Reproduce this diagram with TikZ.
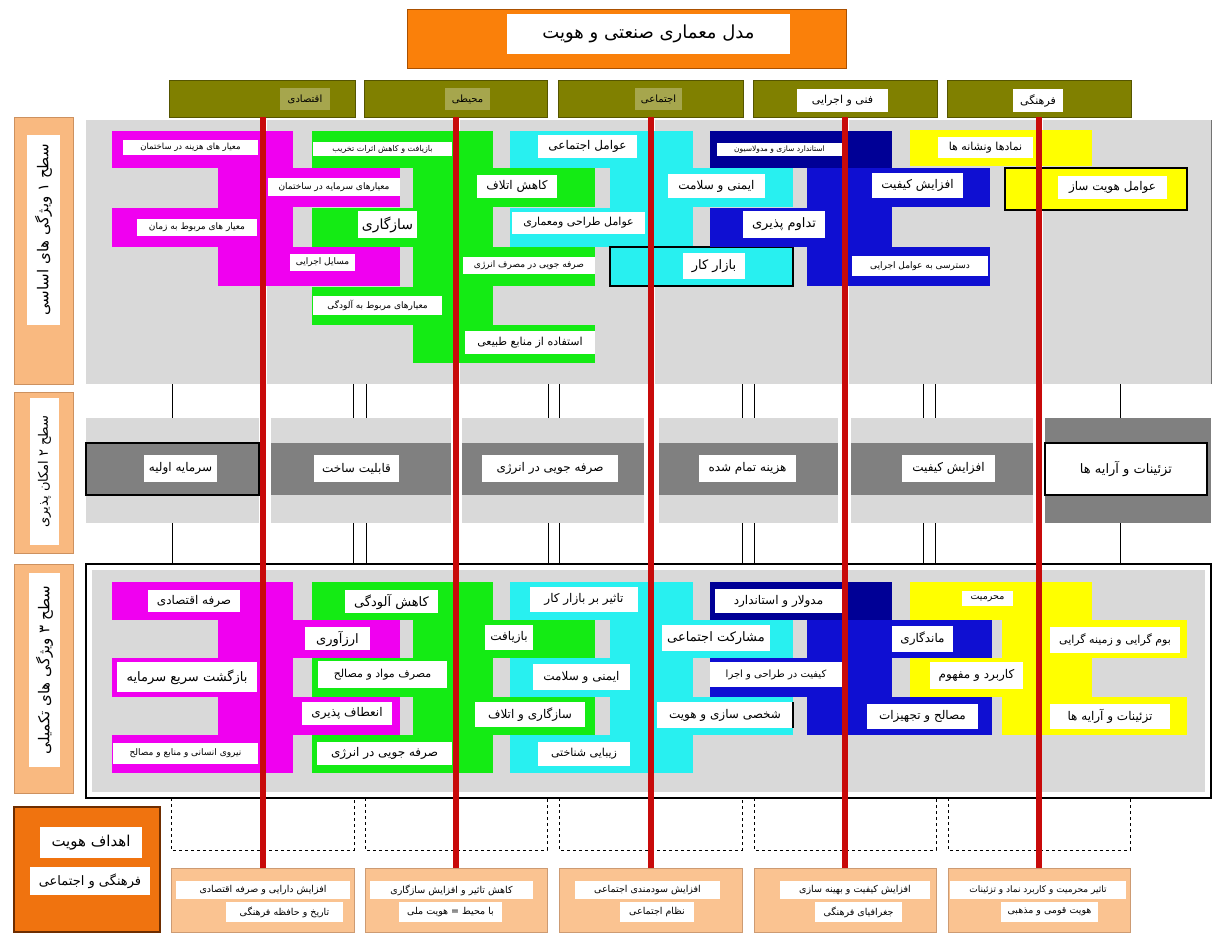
\documentclass[tikz,border=0pt]{standalone}
\usepackage{fontspec}
\usepackage{graphicx}
\newfontfamily\arabicfont[Script=Arabic]{DejaVu Sans}
\TeXXeTstate=1
\definecolor{mag}{RGB}{240,0,240}
\definecolor{grn}{RGB}{20,235,20}
\definecolor{cyn}{RGB}{40,240,240}
\definecolor{blu}{RGB}{15,15,210}
\definecolor{blud}{RGB}{0,0,150}
\definecolor{yel}{RGB}{255,255,0}
\definecolor{pnl}{RGB}{217,217,217}
\definecolor{dgr}{RGB}{128,128,128}
\definecolor{olv}{RGB}{128,128,0}
\definecolor{olvd}{RGB}{85,85,0}
\definecolor{ttl}{RGB}{250,128,10}
\definecolor{ttld}{RGB}{170,80,0}
\definecolor{lor}{RGB}{249,185,128}
\definecolor{lord}{RGB}{205,145,95}
\definecolor{gor}{RGB}{250,195,145}
\definecolor{gord}{RGB}{205,155,115}
\definecolor{dor}{RGB}{240,115,15}
\definecolor{dord}{RGB}{110,45,0}
\definecolor{rln}{RGB}{200,10,10}
\newsavebox\fabox
\newlength\fadim
\newcommand\fitfa[3]{\setlength\fadim{\dimexpr #1\relax}\sbox\fabox{\arabicfont\fontsize{#2}{#2}\selectfont #3}\ifdim\wd\fabox>\fadim\resizebox{\fadim}{!}{\usebox\fabox}\else\usebox\fabox\fi}
\newcommand\tb[8][]{\node[tbox,#1,minimum width={#4pt-#3pt},minimum height={#6pt-#5pt}] (#2) at ({(#3+#4)/2},{(#5+#6)/2}) {\fitfa{#4pt-#3pt-3pt}{#7}{#8}};}
\newcommand\rr[5]{\fill[#1] (#2,#4) rectangle (#3,#5);}
\begin{document}
\begin{tikzpicture}[x=1pt,y=-1pt,
 tbox/.style={fill=white,inner sep=0pt,outer sep=0pt,text=black},
 hdr/.style={fill=olv,draw=olvd,line width=1pt,inner sep=0pt,outer sep=0pt},
 redln/.style={draw=rln,line width=6pt},
 conn/.style={draw=black,line width=1pt},
 dashbox/.style={draw=black,dashed,line width=1pt},
 goalbox/.style={fill=gor,draw=gord,line width=0.8pt,inner sep=0pt,outer sep=0pt},
 labbox/.style={fill=lor,draw=lord,line width=0.8pt,inner sep=0pt,outer sep=0pt},
 ]
\useasboundingbox (0,0) rectangle (1232,938);
\fill[white] (0,0) rectangle (1232,938);
% title
\node[fill=ttl,draw=ttld,line width=1pt,minimum width=439pt,minimum height=59pt,inner sep=0pt] (title) at (626.5,38.5) {};
\tb{titletxt}{507}{790}{14}{54}{18pt}{\beginR مدل معماری صنعتی و هویت\endR}
% headers
\node[hdr,minimum width=186pt,minimum height=37pt] (h1) at (262.5,98.5) {};
\node[hdr,minimum width=183pt,minimum height=37pt] (h2) at (456,98.5) {};
\node[hdr,minimum width=185pt,minimum height=37pt] (h3) at (650.5,98.5) {};
\node[hdr,minimum width=184pt,minimum height=37pt] (h4) at (845,98.5) {};
\node[hdr,minimum width=184pt,minimum height=37pt] (h5) at (1039,98.5) {};
\tb[fill opacity=0.3,text opacity=1]{ht1}{280}{330}{88}{110}{10pt}{\beginR اقتصادی\endR}
\tb[fill opacity=0.3,text opacity=1]{ht2}{445}{490}{88}{110}{10pt}{\beginR محیطی\endR}
\tb[fill opacity=0.3,text opacity=1]{ht3}{635}{682}{88}{110}{10pt}{\beginR اجتماعی\endR}
\tb{ht4}{797}{888}{89}{112}{11pt}{\beginR فنی و اجرایی\endR}
\tb{ht5}{1013}{1063}{89}{112}{11pt}{\beginR فرهنگی\endR}
% left labels
\node[labbox,minimum width=59pt,minimum height=267pt] (lab1) at (43.5,250.5) {};
\node[tbox,rotate=90,minimum width=190pt,minimum height=33pt] (lab1t) at (43.5,230) {\fitfa{186pt}{15pt}{\beginR سطح ۱ ویژگی های اساسی\endR}};
\node[labbox,minimum width=59pt,minimum height=161pt] (lab2) at (43.5,472.5) {};
\node[tbox,rotate=90,minimum width=147pt,minimum height=29pt] (lab2t) at (44.5,471.5) {\fitfa{143pt}{13pt}{\beginR سطح ۲ امکان پذیری\endR}};
\node[labbox,minimum width=59pt,minimum height=229pt] (lab3) at (43.5,678.5) {};
\node[tbox,rotate=90,minimum width=194pt,minimum height=31pt] (lab3t) at (44.5,670) {\fitfa{190pt}{15pt}{\beginR سطح ۳ ویژگی های تکمیلی\endR}};
% level 1 panel
\foreach \a/\b in {86/259.5,266.5/453,460/647.5,654.5/842,849/1036,1043/1211} {\fill[pnl] (\a,120) rectangle (\b,384);}
\draw[line width=0.8pt,black!55] (1211,120) -- (1211,384);
% level 1 magenta
\rr{mag}{112}{293}{131}{168}
\rr{mag}{218}{293}{131}{286}
\rr{mag}{218}{400}{168}{207}
\rr{mag}{112}{293}{208}{247}
\rr{mag}{218}{400}{247}{286}
% level 1 green
\rr{grn}{312}{493}{131}{168}
\rr{grn}{413}{493}{131}{363}
\rr{grn}{460}{595}{168}{207}
\rr{grn}{312}{493}{208}{247}
\rr{grn}{460}{595}{247}{286}
\rr{grn}{312}{493}{287}{325}
\rr{grn}{460}{595}{325}{363}
% level 1 cyan
\rr{cyn}{510}{647}{131}{168}
\rr{cyn}{610}{693}{131}{286}
\rr{cyn}{657}{793}{168}{207}
\rr{cyn}{510}{647}{208}{247}
\rr{cyn}{610}{793}{247}{286}
\draw[line width=1.2pt] (610,247) rectangle (793,286);
% level 1 blue
\rr{blu}{807}{892}{131}{286}
\rr{blud}{710}{892}{131}{168}
\rr{blu}{807}{990}{168}{207}
\rr{blu}{710}{892}{208}{247}
\rr{blu}{807}{990}{247}{286}
% level 1 yellow
\rr{yel}{910}{1092}{130}{166}
\rr{yel}{1005}{1187}{168}{210}
\draw[line width=1.2pt] (1005,168) rectangle (1187,210);
% level 1 texts
\tb{a1}{123}{258}{140}{155}{8.5pt}{\beginR معیار های هزینه در ساختمان\endR}
\tb{a2}{268}{400}{178}{196}{9pt}{\beginR معیارهای سرمایه در ساختمان\endR}
\tb{a3}{137}{257}{219}{236}{9pt}{\beginR معیار های مربوط به زمان\endR}
\tb{a4}{290}{355}{254}{271}{9pt}{\beginR مسایل اجرایی\endR}
\tb{b1}{313}{452}{142}{156}{8pt}{\beginR بازیافت و کاهش اثرات تخریب\endR}
\tb{b2}{358}{417}{211}{238}{14pt}{\beginR سازگاری\endR}
\tb{b3}{313}{442}{296}{315}{9pt}{\beginR معیارهای مربوط به آلودگی\endR}
\tb{b4}{477}{557}{175}{198}{12pt}{\beginR کاهش اتلاف\endR}
\tb{b5}{463}{595}{257}{274}{9pt}{\beginR صرفه جویی در مصرف انرژی\endR}
\tb{b6}{465}{595}{331}{354}{11pt}{\beginR استفاده از منابع طبیعی\endR}
\tb{c1}{538}{637}{135}{158}{12pt}{\beginR عوامل اجتماعی\endR}
\tb{c2}{512}{645}{212}{234}{11pt}{\beginR عوامل طراحی ومعماری\endR}
\tb{c3}{668}{765}{174}{198}{12pt}{\beginR ایمنی و سلامت\endR}
\tb{c4}{683}{745}{253}{279}{13pt}{\beginR بازار کار\endR}
\tb{d1}{717}{842}{143}{156}{7.5pt}{\beginR استاندارد سازی و مدولاسیون\endR}
\tb{d2}{743}{825}{211}{238}{13pt}{\beginR تداوم پذیری\endR}
\tb{d3}{872}{963}{173}{198}{12pt}{\beginR افزایش کیفیت\endR}
\tb{d4}{852}{988}{256}{276}{9pt}{\beginR دسترسی به عوامل اجرایی\endR}
\tb{e1}{938}{1033}{137}{158}{11pt}{\beginR نمادها ونشانه ها\endR}
\tb{e2}{1058}{1167}{176}{199}{12pt}{\beginR عوامل هویت ساز\endR}
% connectors level1-level2-level3
\foreach \xx in {172,353,366,548,559,742,754,923,935,1120} {\draw[conn] (\xx,384) -- (\xx,418); \draw[conn] (\xx,523) -- (\xx,564);}
% level 2
\foreach \a/\b in {86/259,271/451,462/644,659/838,851/1033} {\fill[pnl] (\a,418) rectangle (\b,523); \fill[dgr] (\a,443) rectangle (\b,495);}
\draw[line width=1.2pt] (86,443) rectangle (259,495);
\fill[dgr] (1045,418) rectangle (1211,523);
\tb{f1}{144}{217}{455}{482}{12pt}{\beginR سرمایه اولیه\endR}
\tb{f2}{314}{399}{455}{482}{12pt}{\beginR قابلیت ساخت\endR}
\tb{f3}{482}{618}{455}{482}{12pt}{\beginR صرفه جویی در انرژی\endR}
\tb{f4}{699}{796}{455}{482}{12pt}{\beginR هزینه تمام شده\endR}
\tb{f5}{902}{995}{455}{482}{12pt}{\beginR افزایش کیفیت\endR}
\tb[draw=black,line width=1.2pt]{f6}{1045}{1207}{443}{495}{13pt}{\beginR تزئینات و آرایه ها\endR}
% level 3 panel
\draw[line width=1.2pt,fill=white] (86,564) rectangle (1211,798);
\fill[pnl] (92,570) rectangle (1205,792);
% level 3 magenta
\rr{mag}{112}{293}{582}{620}
\rr{mag}{218}{293}{582}{773}
\rr{mag}{218}{400}{620}{658}
\rr{mag}{112}{293}{658}{697}
\rr{mag}{218}{400}{697}{735}
\rr{mag}{112}{293}{735}{773}
% level 3 green
\rr{grn}{312}{493}{582}{620}
\rr{grn}{413}{493}{582}{773}
\rr{grn}{460}{595}{620}{658}
\rr{grn}{312}{493}{658}{697}
\rr{grn}{460}{595}{697}{735}
\rr{grn}{312}{493}{735}{773}
% level 3 cyan
\rr{cyn}{510}{647}{582}{620}
\rr{cyn}{610}{693}{582}{773}
\rr{cyn}{657}{793}{620}{658}
\rr{cyn}{510}{647}{658}{697}
\rr{cyn}{657}{793}{697}{735}
\rr{cyn}{510}{647}{735}{773}
% level 3 blue
\rr{blu}{807}{892}{582}{735}
\rr{blud}{710}{892}{582}{620}
\rr{blu}{807}{992}{620}{658}
\rr{blu}{710}{892}{658}{697}
\rr{blu}{807}{992}{697}{735}
% level 3 yellow
\rr{yel}{910}{1092}{582}{620}
\rr{yel}{1002}{1092}{582}{735}
\rr{yel}{1002}{1187}{620}{658}
\rr{yel}{910}{1092}{658}{697}
\rr{yel}{1002}{1187}{697}{735}
% level 3 texts
\tb{m1}{148}{240}{590}{612}{12pt}{\beginR صرفه اقتصادی\endR}
\tb{m2}{305}{370}{627}{650}{13pt}{\beginR ارزآوری\endR}
\tb{m3}{117}{257}{662}{692}{13pt}{\beginR بازگشت سریع سرمایه\endR}
\tb{m4}{302}{392}{702}{725}{12pt}{\beginR انعطاف پذیری\endR}
\tb{m5}{113}{258}{743}{764}{9pt}{\beginR نیروی انسانی و منابع و مصالح\endR}
\tb{n1}{345}{438}{590}{613}{13pt}{\beginR کاهش آلودگی\endR}
\tb{n2}{318}{447}{661}{688}{11pt}{\beginR مصرف مواد و مصالح\endR}
\tb{n3}{317}{452}{742}{765}{12pt}{\beginR صرفه جویی در انرژی\endR}
\tb{n4}{485}{533}{625}{650}{12pt}{\beginR بازیافت\endR}
\tb{n5}{475}{585}{702}{727}{12pt}{\beginR سازگاری و اتلاف\endR}
\tb{o1}{530}{638}{587}{612}{12pt}{\beginR تاثیر بر بازار کار\endR}
\tb{o2}{533}{630}{664}{690}{12pt}{\beginR ایمنی و سلامت\endR}
\tb{o3}{538}{630}{742}{766}{11pt}{\beginR زیبایی شناختی\endR}
\tb{o4}{662}{770}{625}{651}{13pt}{\beginR مشارکت اجتماعی\endR}
\tb{o5}{657}{793}{702}{728}{12pt}{\beginR شخصی سازی و هویت\endR}
\draw[line width=1.2pt] (793,702) -- (793,728);
\tb{p1}{715}{842}{589}{613}{12pt}{\beginR مدولار و استاندارد\endR}
\tb{p2}{710}{842}{662}{687}{10pt}{\beginR کیفیت در طراحی و اجرا\endR}
\tb{p3}{892}{953}{626}{652}{12pt}{\beginR ماندگاری\endR}
\tb{p4}{867}{978}{704}{729}{12pt}{\beginR مصالح و تجهیزات\endR}
\tb{q1}{962}{1013}{591}{606}{9.5pt}{\beginR محرمیت\endR}
\tb{q2}{930}{1023}{662}{689}{12pt}{\beginR کاربرد و مفهوم\endR}
\tb{q3}{1050}{1180}{627}{653}{11pt}{\beginR بوم گرایی و زمینه گرایی\endR}
\tb{q4}{1050}{1170}{704}{729}{12pt}{\beginR تزئینات و آرایه ها\endR}
% dashed boxes
\foreach \a/\b in {171/354,365/547,559/742,754/936,948/1130} {\draw[dashbox] (\a,798) -- (\a,850) -- (\b,850) -- (\b,798);}
% goals
\node[fill=dor,draw=dord,line width=1.2pt,minimum width=146pt,minimum height=125pt,inner sep=0pt] (goals) at (87,869.5) {};
\tb{gl1}{40}{142}{827}{858}{15pt}{\beginR اهداف هویت\endR}
\tb{gl2}{30}{150}{867}{895}{13pt}{\beginR فرهنگی و اجتماعی\endR}
\node[goalbox,minimum width=183pt,minimum height=64pt] (g1) at (262.5,900) {};
\node[goalbox,minimum width=182pt,minimum height=64pt] (g2) at (456,900) {};
\node[goalbox,minimum width=183pt,minimum height=64pt] (g3) at (650.5,900) {};
\node[goalbox,minimum width=182pt,minimum height=64pt] (g4) at (845,900) {};
\node[goalbox,minimum width=182pt,minimum height=64pt] (g5) at (1039,900) {};
\tb{g1a}{176}{350}{881}{899}{9.5pt}{\beginR افزایش دارایی و صرفه اقتصادی\endR}
\tb{g1b}{226}{343}{902}{922}{9.5pt}{\beginR تاریخ و حافظه فرهنگی\endR}
\tb{g2a}{370}{533}{881}{899}{9.5pt}{\beginR کاهش تاثیر و افزایش سازگاری\endR}
\tb{g2b}{399}{502}{902}{922}{9.5pt}{\beginR با محیط = هویت ملی\endR}
\tb{g3a}{575}{720}{881}{899}{9.5pt}{\beginR افزایش سودمندی اجتماعی\endR}
\tb{g3b}{620}{694}{902}{922}{9.5pt}{\beginR نظام اجتماعی\endR}
\tb{g4a}{780}{930}{881}{899}{9.5pt}{\beginR افزایش کیفیت و بهینه سازی\endR}
\tb{g4b}{815}{902}{902}{922}{9.5pt}{\beginR جغرافیای فرهنگی\endR}
\tb{g5a}{950}{1126}{881}{899}{9pt}{\beginR تاثیر محرمیت و کاربرد نماد و تزئینات\endR}
\tb{g5b}{1001}{1098}{902}{922}{9.5pt}{\beginR هویت قومی و مذهبی\endR}
% red axes
\foreach \i in {1,...,5} {\draw[redln] (h\i.south) -- (h\i.south |- g\i.north);}
\end{tikzpicture}
\end{document}
